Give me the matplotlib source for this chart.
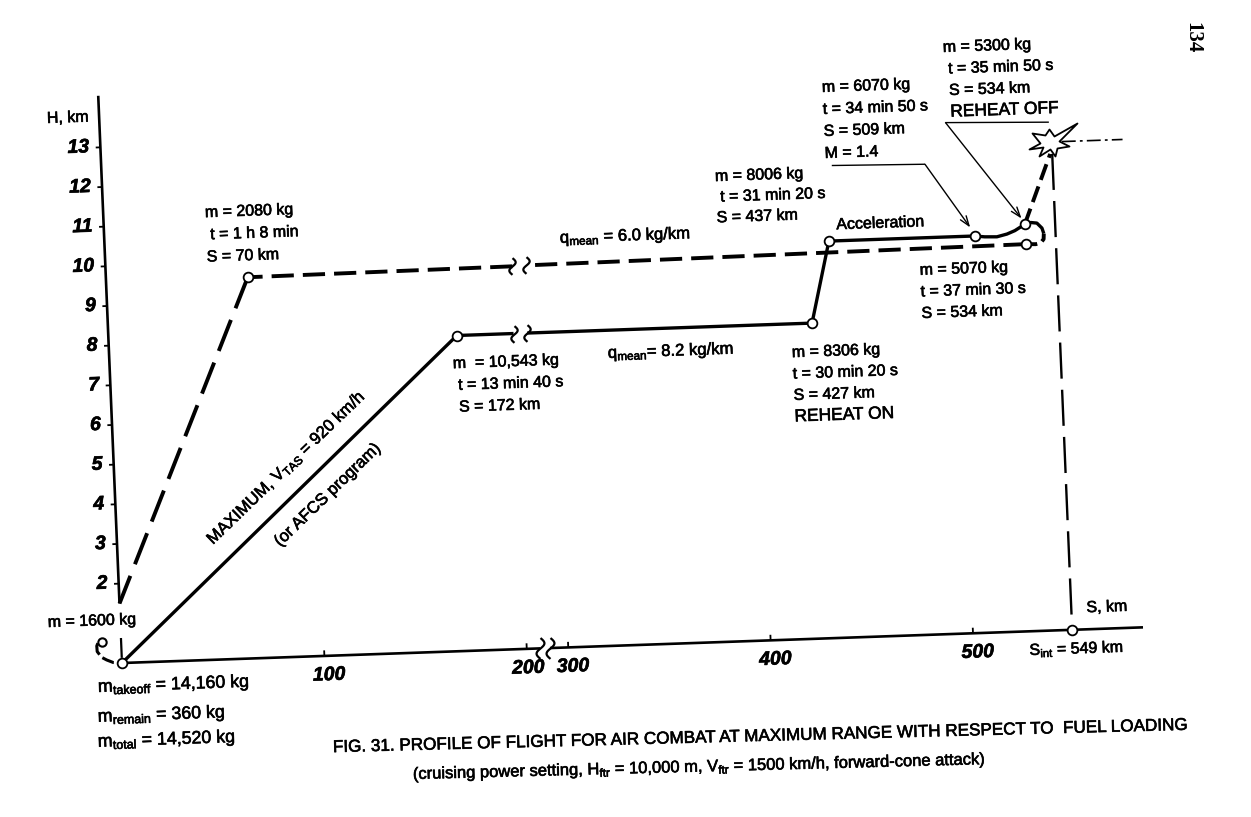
import numpy as np
import matplotlib
matplotlib.use("Agg")
import matplotlib.pyplot as plt
import matplotlib.patheffects as pe
from matplotlib.transforms import Affine2D
from matplotlib.path import Path
from matplotlib.markers import MarkerStyle

# ---------------- data (S in km, H in km) ----------------
climb_S = [0, 172]
climb_H = [0.0, 7.95]
cruise_out_S = [172, 427]
cruise_out_H = [7.95, 7.95]
reheat_S = [427, 437]
reheat_H = [7.95, 10.0]
accel_S = [437, 509, 514, 520, 525, 529, 534]
accel_H = [10.0, 10.0, 9.97, 9.96, 10.02, 10.10, 10.25]
zoomclimb_S = [534, 548]
zoomclimb_H = [10.25, 12.0]
turn_S = [534, 537, 540, 542.4, 543.2]
turn_H = [10.25, 10.29, 10.27, 10.14, 10.0]
turn2_S = [543.2, 543.0, 541.5, 539, 534]
turn2_H = [10.0, 9.86, 9.77, 9.74, 9.75]
return_S = [534, 70]
return_H = [9.75, 9.60]
descent_S = [70, 0]
descent_H = [9.60, 1.5]
landing_S = [-11.5, -12.1, -12.0, -9.9, -7.5, -4.3, 0]
landing_H = [0.52, 0.45, 0.31, 0.16, 0.09, 0.02, 0.0]
landing_pt = (-9.6, 0.55)
attack_S, attack_H = 549, 12.3
S_int = 549
pts_S = [0, 172, 427, 437, 509, 534, 534, 70, 549]
pts_H = [0.0, 7.95, 7.95, 10.0, 10.0, 10.25, 9.75, 9.60, 0.0]
x_ticks = [100, 200, 300, 400, 500]
y_ticks = list(range(2, 14))
x_tick_labels = ["100", "200", "300", "400", "500"]
# leader lines of the callouts
m14_leader_S = [440, 486, 507]
m14_leader_H = [11.90, 11.85, 10.22]
off_leader_S = [548, 497, 532.5]
off_leader_H = [12.80, 12.88, 10.40]

# ---------------- figure / frame ----------------
W, HP = 1251, 817
fig = plt.figure(figsize=(W / 100, HP / 100), dpi=100)
fig.patch.set_facecolor("white")
ax = fig.add_axes([0, 0, 1, 1])
ax.set_axis_off()
ax.set_autoscale_on(False)

plt.rcParams["font.family"] = ["Liberation Sans", "DejaVu Sans"]
plt.rcParams["mathtext.fontset"] = "custom"
plt.rcParams["mathtext.rm"] = "Liberation Sans"
plt.rcParams["mathtext.it"] = "Liberation Sans:italic"
plt.rcParams["mathtext.bf"] = "Liberation Sans:bold"
plt.rcParams["lines.scale_dashes"] = False

KX, KY, OX, OY, G = 2.025, 39.7, 122.0, 154.0, 20.5


def fwd(s):
    s = np.asarray(s, float)
    return np.where(s <= 200, s, np.where(s >= 300, s - 100 + G, 200 + (s - 200) * G / 100))


def inv(u):
    u = np.asarray(u, float)
    return np.where(u <= 200, u, np.where(u >= 200 + G, u + 100 - G, 200 + (u - 200) * 100 / G))


ax.set_xscale("function", functions=(fwd, inv))
ax.set_xlim(float(inv(-OX / KX)), float(inv((W - OX) / KX)))
ax.set_ylim(-OY / KY, (HP - OY) / KY)

tx, ty = np.radians(2.0), np.radians(2.4)
M = np.array([[np.cos(tx), -np.sin(ty), 0], [np.sin(tx), np.cos(ty), 0], [0, 0, 1]])
tilt = Affine2D().translate(-OX, -OY) + Affine2D(M) + Affine2D().translate(OX, OY)
tr = ax.transData + tilt
ROT = 2.0

K = "black"
LW_SOLID = 2.4
LW_DASH = 2.8
DASH = (16, 6.5)
BOLDEN = [pe.withStroke(linewidth=0.45, foreground=K)]


def line(S, H, **kw):
    kw.setdefault("color", K)
    kw.setdefault("solid_capstyle", "butt")
    kw.setdefault("dash_capstyle", "butt")
    ax.plot(S, H, transform=tr, clip_on=False, **kw)


def txt(S, H, s, size=11.5, rot=ROT, **kw):
    kw.setdefault("ha", "left")
    kw.setdefault("va", "baseline")
    ax.text(S, H, s, transform=tr, rotation=rot, rotation_mode="anchor",
            fontsize=size, clip_on=False, path_effects=BOLDEN, **kw)


def block(S, H, lines, dH, size=11.5):
    for i, s in enumerate(lines):
        if isinstance(s, tuple):
            txt(S, H - i * dH, s[0], size=s[1])
        else:
            txt(S, H - i * dH, s, size=size)


# squiggle marker for the broken scale
tt = np.linspace(-1, 1, 25)
squig = MarkerStyle(Path(np.column_stack([0.38 * np.sin(np.pi * tt), tt])))


def squiggles(S_list, H_list, size=14):
    ax.plot(S_list, H_list, linestyle="none", marker=squig, markersize=size,
            markerfacecolor="none", markeredgecolor=K, markeredgewidth=1.6,
            transform=tr, clip_on=False)


# ---------------- axes ----------------
AX_LW = 1.9
x_break = [232, 256]
line([0, x_break[0]], [0, 0], lw=AX_LW)
line([x_break[1], 584], [0, 0], lw=AX_LW)
squiggles(x_break, [0, 0], size=15)
for xt in x_ticks:
    line([xt, xt], [0, 0.14], lw=1.3)
for xt, lab in zip(x_ticks, x_tick_labels):
    txt(xt + 2, -0.5, lab, size=14, ha="center", va="center",
        family=["Liberation Sans Narrow", "Liberation Sans"], style="italic", weight="bold")

line([0, 0], [1.5, 14.3], lw=AX_LW)
line([0, 0], [0.13, 0.63], lw=1.6)
for yt in y_ticks:
    line([-2.3, 0], [yt, yt], lw=1.3)
    txt(-5.5, yt, str(yt), size=14, ha="right", va="center",
        family=["Liberation Sans Narrow", "Liberation Sans"], style="italic", weight="bold")

txt(-25.8, 13.66, "H, km", size=11.5)
txt(556.5, 0.43, "S, km", size=11.5)
txt(527.5, -0.60, r"S$_{\rm int}$ = 549 km", size=11.5)

# ---------------- flight profile ----------------
# outbound (solid)
line(climb_S, climb_H, lw=LW_SOLID)
brk_solid = [200, 233]
line([cruise_out_S[0], brk_solid[0]], [cruise_out_H[0]] * 2, lw=LW_SOLID)
line([brk_solid[1], cruise_out_S[1]], [cruise_out_H[1]] * 2, lw=LW_SOLID)
squiggles(brk_solid, [cruise_out_H[0]] * 2, size=12)
line(reheat_S, reheat_H, lw=LW_SOLID)
line(accel_S, accel_H, lw=LW_SOLID)
line(turn_S, turn_H, lw=LW_SOLID)
line(turn2_S, turn2_H, lw=LW_DASH, linestyle=(0, (6, 4)))
line(zoomclimb_S, zoomclimb_H, lw=LW_DASH, linestyle=(0, (12, 5)))

# return (dashed)
brk_dash = [204, 238]
hb = np.interp(brk_dash, return_S[::-1], return_H[::-1])
line([return_S[0], brk_dash[1]], [return_H[0], hb[1]], lw=LW_DASH, linestyle=(0, DASH))
line([brk_dash[0], return_S[1]], [hb[0], return_H[1]], lw=LW_DASH, linestyle=(0, DASH))
squiggles(brk_dash, list(hb), size=12)
line(descent_S, descent_H, lw=LW_DASH, linestyle=(0, (24, 9)))
line(landing_S, landing_H, lw=2.2, linestyle=(0, (9, 3)))

# attack: vertical projection and line of sight
line([S_int, S_int], [12.0, 0.15], lw=1.7, linestyle=(0, (26, 8)))
line([554, 584], [attack_H, attack_H], lw=1.2, linestyle=(0, (10, 3, 2, 3)))

star_xy = [(-23, -7), (-12, -1), (-20, 9), (-7, 7), (-3, 13), (2, 6), (25, 19),
           (7, 1), (17, -4), (5, -6), (3, -14), (-2, -7), (-13, -14), (-9, -5), (-23, -7)]
star = MarkerStyle(Path(np.array(star_xy, float), closed=True))
ax.plot([attack_S], [attack_H], linestyle="none", marker=star, markersize=36,
        markerfacecolor="white", markeredgecolor=K, markeredgewidth=1.3,
        transform=tr, clip_on=False, zorder=4)

# points
ax.plot(pts_S, pts_H, linestyle="none", marker="o", markersize=7, markerfacecolor="white",
        markeredgecolor=K, markeredgewidth=1.3, transform=tr, clip_on=False, zorder=5)
ax.plot([landing_pt[0]], [landing_pt[1]], linestyle="none", marker="o", markersize=6,
        markerfacecolor="white", markeredgecolor=K, markeredgewidth=1.5,
        transform=tr, clip_on=False, zorder=5)

# leaders
line(m14_leader_S[:2], m14_leader_H[:2], lw=1.0)
ax.annotate("", xy=(m14_leader_S[2], m14_leader_H[2]), xytext=(m14_leader_S[1], m14_leader_H[1]),
            xycoords=tr, textcoords=tr,
            arrowprops=dict(arrowstyle="->,head_length=0.7,head_width=0.25", lw=1.0,
                            color=K, shrinkA=0, shrinkB=0), annotation_clip=False)
line(off_leader_S[:2], off_leader_H[:2], lw=1.0)
ax.annotate("", xy=(off_leader_S[2], off_leader_H[2]), xytext=(off_leader_S[1], off_leader_H[1]),
            xycoords=tr, textcoords=tr,
            arrowprops=dict(arrowstyle="->,head_length=0.7,head_width=0.25", lw=1.0,
                            color=K, shrinkA=0, shrinkB=0), annotation_clip=False)

# ---------------- annotations ----------------
block(50.2, 11.15, ["m = 2080 kg", " t = 1 h 8 min", "S = 70 km"], 0.56)
block(169.4, 7.13, ["m  = 10,543 kg", " t = 13 min 40 s", " S = 172 km"], 0.55)
block(416.4, 7.11, ["m = 8306 kg", "t = 30 min 20 s", "S = 427 km", ("REHEAT ON", 12.5)], 0.54)
block(382.1, 11.61, ["m = 8006 kg", " t = 31 min 20 s", "S = 437 km"], 0.52)
block(436.7, 13.76, ["m = 6070 kg", "t = 34 min 50 s", "S = 509 km", "M = 1.4"], 0.555)
block(497.2, 14.66, ["m = 5300 kg", " t = 35 min 50 s", " S = 534 km", (" REHEAT OFF", 12.5)], 0.545)
block(481.2, 9.07, ["m = 5070 kg", "t = 37 min 30 s", "S = 534 km"], 0.545)
txt(441.0, 10.29, "Acceleration", size=11.5)
txt(304.3, 10.19, r"q$_{\rm mean}$ = 6.0 kg/km", size=12)
txt(325.6, 7.25, r"q$_{\rm mean}$= 8.2 kg/km", size=12)
txt(-35.8, 0.97, "m = 1600 kg", size=11.5)
txt(-12.4, -0.71, r"m$_{\rm takeoff}$ = 14,160 kg", size=12.8)
txt(-13.1, -1.46, r"m$_{\rm remain}$ = 360 kg", size=12.8)
txt(-13.6, -2.09, r"m$_{\rm total}$ = 14,520 kg", size=12.8)

ang = 44.0
txt(47.3, 2.89, r"MAXIMUM, V$_{\rm TAS}$ = 920 km/h", size=12, rot=ang)
txt(80.4, 2.78, "(or AFCS program)", size=12, rot=ang)

txt(102.3, -2.43, "FIG. 31. PROFILE OF FLIGHT FOR AIR COMBAT AT MAXIMUM RANGE WITH RESPECT TO  FUEL LOADING",
    size=12.3, rot=1.5)
txt(141.2, -3.18, r"(cruising power setting, H$_{\rm ftr}$ = 10,000 m, V$_{\rm ftr}$ = 1500 km/h, forward-cone attack)",
    size=11.9, rot=1.5)

fig.text(1192 / W, 1 - 38 / HP, "134", rotation=270, ha="center", va="center",
         fontsize=15, weight="bold", family=["Liberation Serif", "DejaVu Serif"])

fig.savefig("out.png", dpi=100, facecolor="white")
